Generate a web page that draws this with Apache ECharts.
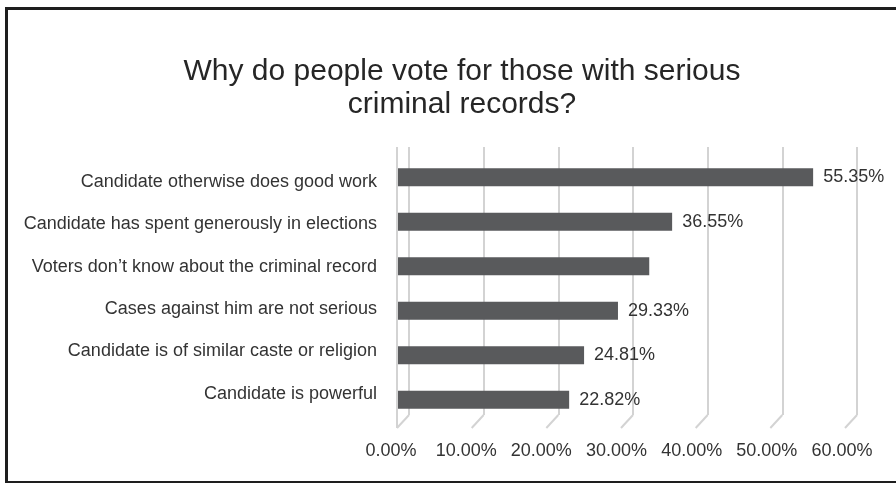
<!DOCTYPE html>
<html>
<head>
<meta charset="utf-8">
<script src="https://cdn.jsdelivr.net/npm/echarts@6/dist/echarts.min.js"></script>
<style>
  html, body { margin: 0; padding: 0; background: #fff; }
  #chart { position: absolute; left: 0; top: 0; width: 896px; height: 483px; }
  #frame {
    position: absolute; left: 5px; top: 7px; width: 900px; height: 471px;
    border-left: 3px solid #1e1e1e; border-top: 3px solid #1e1e1e; border-bottom: 2px solid #1e1e1e;
    pointer-events: none;
  }
</style>
</head>
<body>
<div id="chart"></div>
<div id="frame"></div>
<script>
// categories, bottom to top (category axis starts at the bottom)
var categories = [
  'Candidate is powerful',
  'Candidate is of similar caste or religion',
  'Cases against him are not serious',
  'Voters don\u2019t know about the criminal record',
  'Candidate has spent generously in elections',
  'Candidate otherwise does good work'
];
var values = [22.82, 24.81, 29.33, 33.5, 36.55, 55.35];
// the bar without a printed value
var hideLabel = [false, false, false, true, false, false];
var xTicks = [0, 10, 20, 30, 40, 50, 60];

var font = '"Liberation Sans", Arial, sans-serif';
var textColor = '#333';

var chart = echarts.init(document.getElementById('chart'));

var barData = [];
for (var i = 0; i < values.length; i++) {
  barData.push({
    value: values[i],
    label: { show: !hideLabel[i] }
  });
}

var option = {
  animation: false,
  textStyle: { fontFamily: font },
  title: {
    text: 'Why do people vote for those with serious\ncriminal records?',
    left: 457,
    top: 50,
    textAlign: 'center',
    textStyle: {
      fontFamily: font,
      fontSize: 30,
      lineHeight: 33,
      fontWeight: 'normal',
      color: '#262626'
    }
  },
  grid: [
    // bars
    { left: 398, width: 450, top: 155, height: 267 },
    // back wall gridlines
    { left: 409, width: 448, top: 147, height: 268 },
    // category labels
    { left: 398, width: 450, top: 161, height: 254 },
    // value labels
    { left: 391, width: 451, top: 420, height: 10 }
  ],
  xAxis: [
    { gridIndex: 0, type: 'value', min: 0, max: 60, interval: 10,
      axisLine: { show: false }, axisTick: { show: false },
      axisLabel: { show: false }, splitLine: { show: false } },
    { gridIndex: 1, type: 'value', min: 0, max: 60, interval: 10,
      axisLine: { show: false }, axisTick: { show: false },
      axisLabel: { show: false },
      splitLine: { show: true, lineStyle: { color: '#d3d3d3', width: 2 } } },
    { gridIndex: 2, type: 'value', min: 0, max: 60, show: false },
    { gridIndex: 3, type: 'value', min: 0, max: 60, interval: 10,
      axisLine: { show: false }, axisTick: { show: false },
      splitLine: { show: false },
      axisLabel: {
        margin: 12, fontSize: 18, color: textColor, fontFamily: font,
        formatter: function (v) { return v.toFixed(2) + '%'; }
      } }
  ],
  yAxis: [
    { gridIndex: 0, type: 'category', data: categories,
      axisLine: { show: false }, axisTick: { show: false },
      axisLabel: { show: false }, splitLine: { show: false } },
    { gridIndex: 1, type: 'value', min: 0, max: 1, show: false },
    { gridIndex: 2, type: 'category', data: categories,
      axisLine: { show: false }, axisTick: { show: false },
      axisLabel: { margin: 21, fontSize: 18, color: textColor, fontFamily: font },
      splitLine: { show: false } },
    { gridIndex: 3, type: 'value', show: false }
  ],
  series: [
    {
      // floor edges of the 3D gridlines
      type: 'custom',
      xAxisIndex: 1,
      yAxisIndex: 1,
      silent: true,
      z: 1,
      data: xTicks.map(function (t) { return [t, 0]; }),
      renderItem: function (params, api) {
        var p = api.coord([api.value(0), 0]);
        var top = api.coord([api.value(0), 1]);
        var style = { stroke: '#d3d3d3', lineWidth: 2 };
        var children = [{
          type: 'line',
          shape: { x1: p[0], y1: p[1], x2: p[0] - 12, y2: p[1] + 13 },
          style: style
        }];
        if (api.value(0) === 0) {
          children.push({
            type: 'line',
            shape: { x1: p[0] - 12, y1: top[1], x2: p[0] - 12, y2: p[1] + 13 },
            style: style
          });
        }
        return { type: 'group', children: children };
      }
    },
    {
      type: 'bar',
      xAxisIndex: 0,
      yAxisIndex: 0,
      barWidth: 18,
      z: 3,
      itemStyle: { color: '#595a5c' },
      label: {
        position: 'right',
        distance: 10,
        fontSize: 18,
        color: textColor,
        fontFamily: font,
        formatter: function (p) { return p.value.toFixed(2) + '%'; }
      },
      data: barData
    }
  ]
};

chart.setOption(option);
</script>
</body>
</html>
